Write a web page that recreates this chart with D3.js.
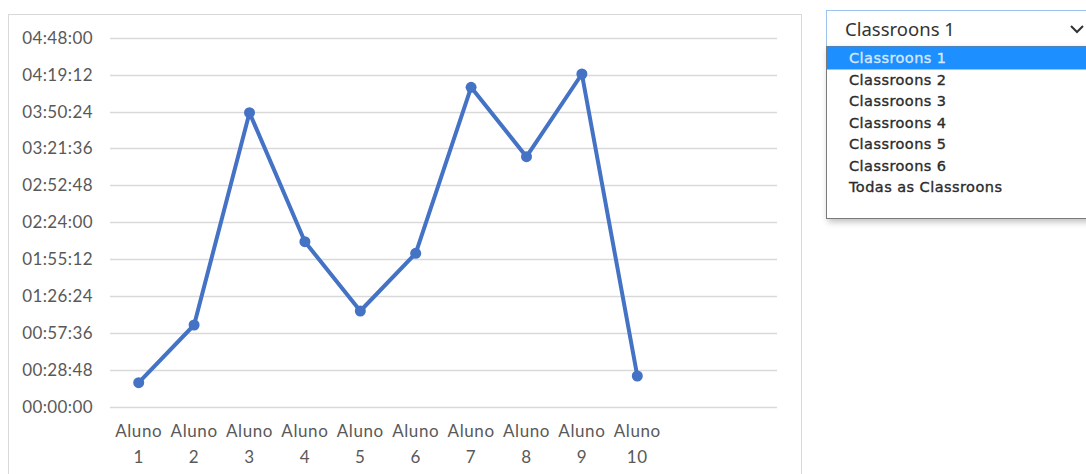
<!DOCTYPE html>
<html>
<head>
<meta charset="utf-8">
<script src="https://cdn.jsdelivr.net/npm/d3@7"></script>
<style>
  body { margin: 0; background: #fff; }
  svg { display: block; }
</style>
</head>
<body>
<div id="chart"></div>
<script>
// data
var categories = ["Aluno 1", "Aluno 2", "Aluno 3", "Aluno 4", "Aluno 5",
                  "Aluno 6", "Aluno 7", "Aluno 8", "Aluno 9", "Aluno 10"];
var times = ["00:18:57", "01:03:57", "03:49:31", "02:08:55", "01:14:52",
             "01:59:50", "04:09:18", "03:15:13", "04:19:41", "00:24:10"];
var yTicks = ["00:00:00", "00:28:48", "00:57:36", "01:26:24", "01:55:12", "02:24:00",
              "02:52:48", "03:21:36", "03:50:24", "04:19:12", "04:48:00"];
var options = ["Classroons 1", "Classroons 2", "Classroons 3", "Classroons 4",
               "Classroons 5", "Classroons 6", "Todas as Classroons"];
var selected = "Classroons 1";

function toSec(s) {
  var p = s.split(":").map(Number);
  return p[0] * 3600 + p[1] * 60 + p[2];
}

var svgWidth = 1086;
var svgHeight = 474;

var svg = d3.select("#chart")
  .append("svg")
  .attr("width", svgWidth)
  .attr("height", svgHeight);

var defs = svg.append("defs");
var f = defs.append("filter").attr("id", "shadow")
  .attr("x", "-10%").attr("y", "-10%").attr("width", "130%").attr("height", "130%");
f.append("feDropShadow").attr("dx", 2).attr("dy", 3).attr("stdDeviation", 3)
  .attr("flood-color", "#000").attr("flood-opacity", 0.25);

// chart frame
svg.append("rect")
  .attr("x", 8.5).attr("y", 14.5)
  .attr("width", 793).attr("height", 470)
  .attr("fill", "#fff")
  .attr("stroke", "#d9d9d9");

var x = d3.scaleBand()
  .domain(categories)
  .range([111, 111 + 55.4 * categories.length]);

var y = d3.scaleLinear()
  .domain([0, toSec(yTicks[yTicks.length - 1])])
  .range([407, 37.7]);

var gridLeft = 110, gridRight = 777;

// gridlines
svg.append("g")
  .selectAll("line")
  .data(yTicks)
  .enter().append("line")
  .attr("x1", gridLeft).attr("x2", gridRight)
  .attr("y1", function(d) { return Math.round(y(toSec(d))) + 0.5; })
  .attr("y2", function(d) { return Math.round(y(toSec(d))) + 0.5; })
  .attr("stroke", "#d9d9d9")
  .attr("stroke-width", 1.5);

// y axis labels
var yAxis = d3.axisLeft(y)
  .tickValues(yTicks.map(toSec))
  .tickFormat(function(d, i) { return yTicks[i]; })
  .tickSize(0)
  .tickPadding(0);

var gy = svg.append("g")
  .attr("transform", "translate(93,0)")
  .call(yAxis);
gy.select(".domain").remove();
gy.selectAll("text")
  .attr("font-family", "Lato, sans-serif")
  .attr("font-size", "17px")
  .attr("letter-spacing", "0.4px")
  .attr("fill", "#595959");

// x axis labels (two lines)
var xAxis = d3.axisBottom(x).tickSize(0).tickFormat("");
var gx = svg.append("g")
  .attr("transform", "translate(0,407)")
  .call(xAxis);
gx.select(".domain").remove();
gx.selectAll(".tick").each(function(d) {
  var parts = d.split(" ");
  var t = d3.select(this).append("text")
    .attr("text-anchor", "middle")
    .attr("font-family", "Lato, sans-serif")
    .attr("font-size", "17px")
    .attr("letter-spacing", "0.6px")
    .attr("fill", "#595959");
  t.append("tspan").attr("x", 0).attr("y", 30).text(parts[0]);
  t.append("tspan").attr("x", 0).attr("y", 56).text(parts[1]);
});

// line
var pts = categories.map(function(c, i) { return { c: c, v: toSec(times[i]) }; });

var line = d3.line()
  .x(function(d) { return x(d.c) + x.bandwidth() / 2; })
  .y(function(d) { return y(d.v); });

svg.append("path")
  .datum(pts)
  .attr("d", line)
  .attr("fill", "none")
  .attr("stroke", "#4472c4")
  .attr("stroke-width", 4)
  .attr("stroke-linejoin", "round");

svg.append("g")
  .selectAll("circle")
  .data(pts)
  .enter().append("circle")
  .attr("cx", function(d) { return x(d.c) + x.bandwidth() / 2; })
  .attr("cy", function(d) { return y(d.v); })
  .attr("r", 5.5)
  .attr("fill", "#4472c4");

// dropdown
var dd = svg.append("g");
dd.append("rect")
  .attr("x", 826.5).attr("y", 10.5)
  .attr("width", 270).attr("height", 36)
  .attr("fill", "#fff")
  .attr("stroke", "#9cc3ec");
dd.append("text")
  .attr("x", 845).attr("y", 36)
  .attr("font-family", "Noto Sans, sans-serif")
  .attr("font-size", "18.5px")
  .attr("fill", "#333")
  .text(selected);
dd.append("path")
  .attr("d", "M1071,26 L1077,32 L1083,26")
  .attr("fill", "none")
  .attr("stroke", "#333")
  .attr("stroke-width", 2);

var rowH = 21.5;
var listTop = 46;
dd.append("rect")
  .attr("x", 826.5).attr("y", listTop + 0.5)
  .attr("width", 270).attr("height", 172)
  .attr("fill", "#fff")
  .attr("stroke", "#7a7a7a")
  .attr("filter", "url(#shadow)");

var rows = dd.selectAll(".opt")
  .data(options)
  .enter().append("g")
  .attr("class", "opt")
  .attr("transform", function(d, i) { return "translate(827," + (listTop + i * rowH) + ")"; });

rows.filter(function(d) { return d === selected; })
  .append("rect")
  .attr("x", 0).attr("y", 0.5)
  .attr("width", 270).attr("height", 23)
  .attr("fill", "#1e8fff");

rows.append("text")
  .attr("x", 22).attr("y", 17)
  .attr("font-family", "DejaVu Sans, sans-serif")
  .attr("font-size", "14.5px")
  .attr("letter-spacing", "0.45px")
  .attr("stroke-width", 0.35)
  .attr("fill", function(d) { return d === selected ? "#d6e8ff" : "#2b2b2b"; })
  .attr("stroke", function(d) { return d === selected ? "#d6e8ff" : "#2b2b2b"; })
  .text(function(d) { return d; });
</script>
</body>
</html>
